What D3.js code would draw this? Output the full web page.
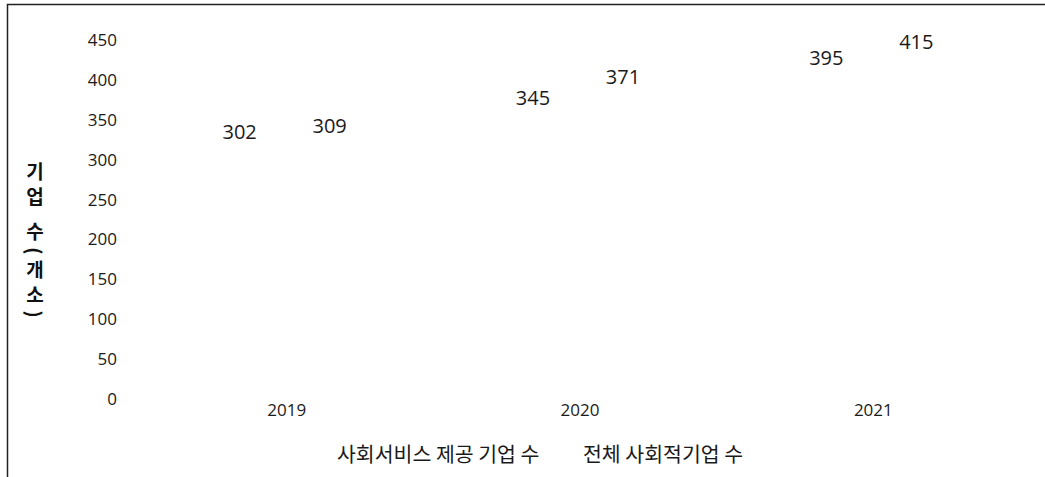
<!DOCTYPE html>
<html>
<head>
<meta charset="utf-8">
<script src="https://cdn.jsdelivr.net/npm/d3@7"></script>
<style>
    body { margin: 0; background: #fff; }
    svg { display: block; font-family: "Open Sans", "Noto Sans CJK KR", sans-serif; }
</style>
</head>
<body>
<svg width="1045" height="477"></svg>
<script>
var years = ["2019", "2020", "2021"];
var seriesNames = ["사회서비스 제공 기업 수", "전체 사회적기업 수"];
var serviceCounts = [302, 345, 395];
var totalCounts = [309, 371, 415];
var yTicks = [0, 50, 100, 150, 200, 250, 300, 350, 400, 450];
var yTitle = "기업 수(개소)";

var svg = d3.select("svg"),
    width = +svg.attr("width"),
    height = +svg.attr("height");

// frame: left + top only
svg.append("path")
    .attr("d", "M7.5," + height + "V4.5H" + width)
    .attr("fill", "none")
    .attr("stroke", "#222")
    .attr("stroke-width", 1.5);

var data = years.map(function(y, i) {
    return { year: y, values: [serviceCounts[i], totalCounts[i]] };
});

var x0 = d3.scaleBand().domain(years).range([140, 1020]);
var x1 = d3.scaleBand().domain([0, 1])
    .range([x0.bandwidth() / 2 - 92, x0.bandwidth() / 2 + 88]);
var y = d3.scaleLinear().domain([0, 450]).range([399, 40]);

// y axis labels (no line, no ticks)
var yAxis = svg.append("g")
    .attr("transform", "translate(117,0)")
    .call(d3.axisLeft(y).tickValues(yTicks).tickSize(0).tickPadding(0));
yAxis.select(".domain").remove();
yAxis.selectAll("text")
    .attr("fill", "#1a1a1a")
    .style("font-size", "17px")
    .style("font-family", "'Open Sans', 'Noto Sans CJK KR', sans-serif");

// x axis labels
var xAxis = svg.append("g")
    .attr("transform", "translate(0,404)")
    .call(d3.axisBottom(x0).tickSize(0).tickPadding(0));
xAxis.select(".domain").remove();
xAxis.selectAll("text")
    .attr("fill", "#1a1a1a")
    .attr("dy", "0.71em")
    .style("font-size", "17px")
    .style("font-family", "'Open Sans', 'Noto Sans CJK KR', sans-serif");

// bars are transparent in the original, only labels show
var group = svg.append("g")
    .selectAll("g")
    .data(data)
    .enter().append("g")
    .attr("transform", function(d) { return "translate(" + x0(d.year) + ",0)"; });

group.selectAll("rect")
    .data(function(d) { return d.values; })
    .enter().append("rect")
    .attr("x", function(d, i) { return x1(i) + 20; })
    .attr("width", x1.bandwidth() - 40)
    .attr("y", function(d) { return y(d); })
    .attr("height", function(d) { return y(0) - y(d); })
    .attr("fill", "none");

group.selectAll("text")
    .data(function(d) { return d.values; })
    .enter().append("text")
    .attr("x", function(d, i) { return x1(i) + x1.bandwidth() / 2; })
    .attr("y", function(d) { return y(d) - 19; })
    .attr("text-anchor", "middle")
    .attr("fill", "#1a1a1a")
    .style("font-size", "20px")
    .text(function(d) { return d; });

// y title, vertical
svg.append("text")
    .attr("x", 35)
    .attr("y", 162)
    .style("writing-mode", "vertical-rl")
    .style("font-family", "'Noto Sans CJK KR', sans-serif")
    .style("font-weight", "bold")
    .style("font-size", "19px")
    .style("letter-spacing", "6px")
    .attr("fill", "#111")
    .text(yTitle);

// legend (no swatches visible)
var legendX = [337, 583];
svg.append("g")
    .selectAll("text")
    .data(seriesNames)
    .enter().append("text")
    .attr("x", function(d, i) { return legendX[i]; })
    .attr("y", 462)
    .attr("fill", "#1a1a1a")
    .style("font-family", "'Noto Sans CJK KR', sans-serif")
    .style("font-size", "20.5px")
    .text(function(d) { return d; });
</script>
</body>
</html>
